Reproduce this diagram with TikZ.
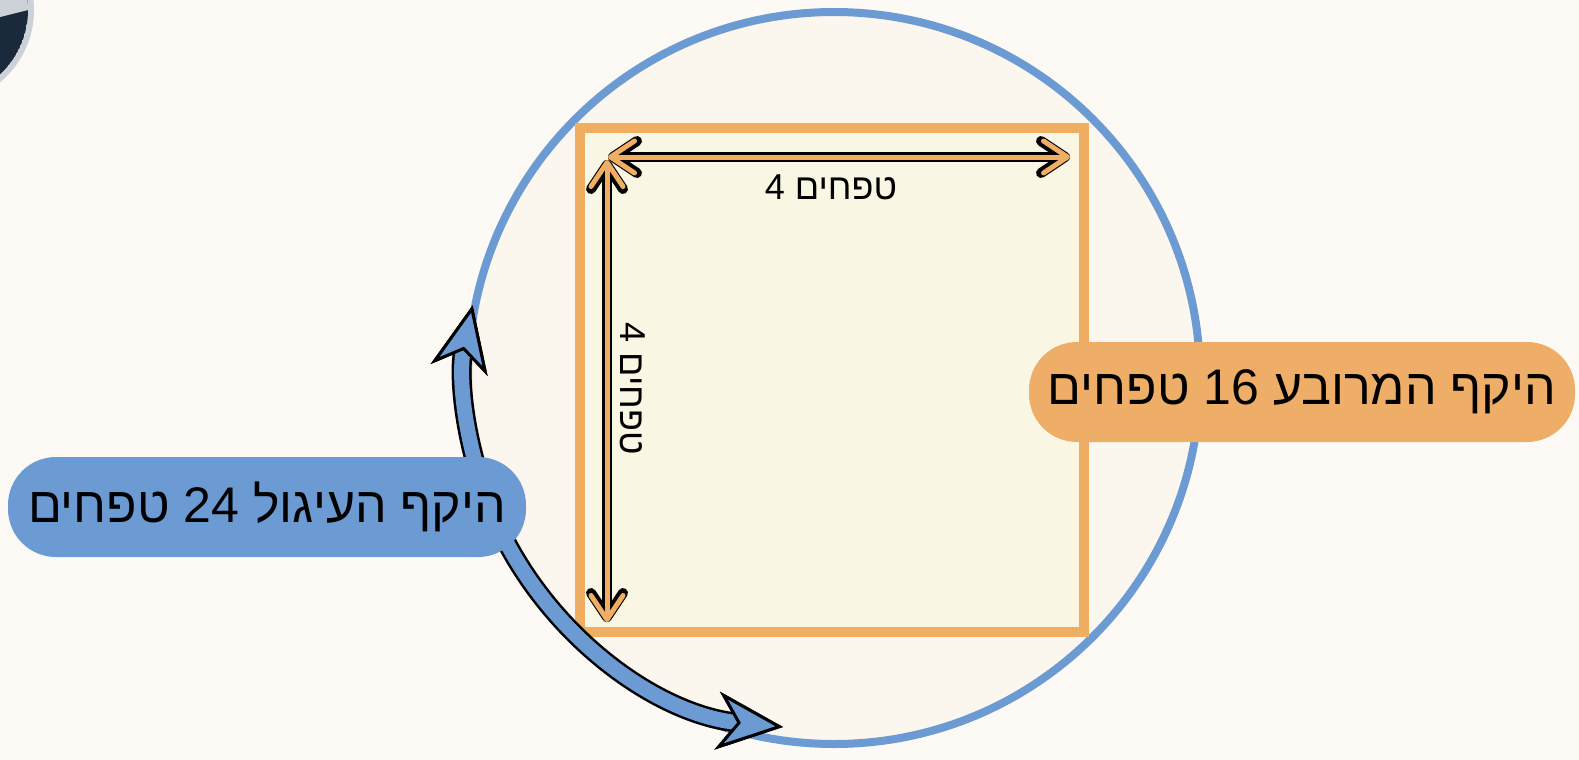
\documentclass[tikz,border=0pt]{standalone}
\usepackage{fontspec}
\newfontfamily\hebfont[Script=Hebrew]{Liberation Sans}
\TeXXeTstate=1
\usetikzlibrary{arrows.meta}
\definecolor{pagebg}{HTML}{FDF9F4}
\definecolor{circbg}{HTML}{FBF7EE}
\definecolor{sqbg}{HTML}{FAF6E4}
\definecolor{circline}{HTML}{6B9BD2}
\definecolor{sqline}{HTML}{F0AE62}
\definecolor{pillblue}{HTML}{6B9BD2}
\definecolor{pillorange}{HTML}{EEAE68}
\definecolor{logodark}{HTML}{1B2A3A}
\definecolor{logogray}{HTML}{CDD2D8}

\begin{document}
\begin{tikzpicture}[
    x=0.5pt, y=-0.5pt,
    pill/.style={
        fill=#1, rounded corners=24pt, minimum height=50pt, inner sep=0pt,
        font=\hebfont\fontsize{25}{29}\selectfont, text=black
    },
    sizelbl/.style={
        font=\hebfont\fontsize{18}{21}\selectfont, text=black, inner sep=0pt
    },
    dimouter/.style={
        line width=5pt, black,
        {Straight Barb[length=12pt, width=16pt, round]}-{Straight Barb[length=12pt, width=16pt, round]}
    },
    diminner/.style={
        line width=2.5pt, sqline,
        {Straight Barb[length=12pt, width=16pt, round]}-{Straight Barb[length=12pt, width=16pt, round]}
    },
    arcouter/.style={
        line width=10pt, black,
        {Stealth[length=33pt, width=29pt, inset=10pt, fill=pillblue, line width=1.5pt]}-{Stealth[length=33pt, width=29pt, inset=10pt, fill=pillblue, line width=1.5pt]}
    },
    arcinner/.style={
        line width=7.5pt, pillblue,
        {Stealth[length=33pt, width=29pt, inset=10pt, fill=pillblue, color=black, line width=1.5pt]}-{Stealth[length=33pt, width=29pt, inset=10pt, fill=pillblue, color=black, line width=1.5pt]}
    }
]

% page
\fill[pagebg] (0,0) rectangle (1579,760);
\useasboundingbox (0,0) rectangle (1579,760);

% cut-off logo, top left
\begin{scope}
    \clip (0,0) rectangle (1579,760);
    \fill[logogray] (-60,10) circle[radius=94];
    \begin{scope}
        \clip (-60,10) circle[radius=88];
        \fill[logodark] (-60,10) circle[radius=88];
        \fill[logogray] (-160,-90) -- (60,-90) -- (60,2) -- (0,17) -- (-160,60) -- cycle;
    \end{scope}
\end{scope}

% circle and square
\coordinate (ctr) at (834,378);
\filldraw[fill=circbg, draw=circline, line width=4pt] (ctr) circle[radius=366];
\filldraw[fill=sqbg, draw=sqline, line width=5pt] (580,128) rectangle (1084,632);

% side arrows of the square
\coordinate (hleft) at (608,157);
\coordinate (hright) at (1070,157);
\coordinate (vtop) at (607,160);
\coordinate (vbot) at (607,622);
\draw[dimouter] (hleft) -- (hright);
\draw[diminner] (hleft) -- (hright);
\draw[dimouter] (vtop) -- (vbot);
\draw[diminner] (vtop) -- (vbot);

\node[sizelbl] (toplbl) at (831,187) {\beginR טפחים \beginL4\endL\endR};
\node[sizelbl, rotate=-90] (sidelbl) at (633,389) {\beginR טפחים \beginL4\endL\endR};

% arc along the circle (centre a bit left of the circle's)
\coordinate (arcstart) at (783,727);
\draw[arcouter] (arcstart) arc[start angle=95.5, end angle=191.8, radius=351.5];
\draw[arcinner] (arcstart) arc[start angle=95.5, end angle=191.8, radius=351.5];

% labels
\node[pill=pillblue, minimum width=259pt] (circlbl) at (267,507)
    {\beginR היקף העיגול \beginL24\endL{} טפחים\endR};
\node[pill=pillorange, minimum width=273pt] (sqlbl) at (1302,392)
    {\beginR היקף המרובע \beginL16\endL{} טפחים\endR};

\end{tikzpicture}
\end{document}
